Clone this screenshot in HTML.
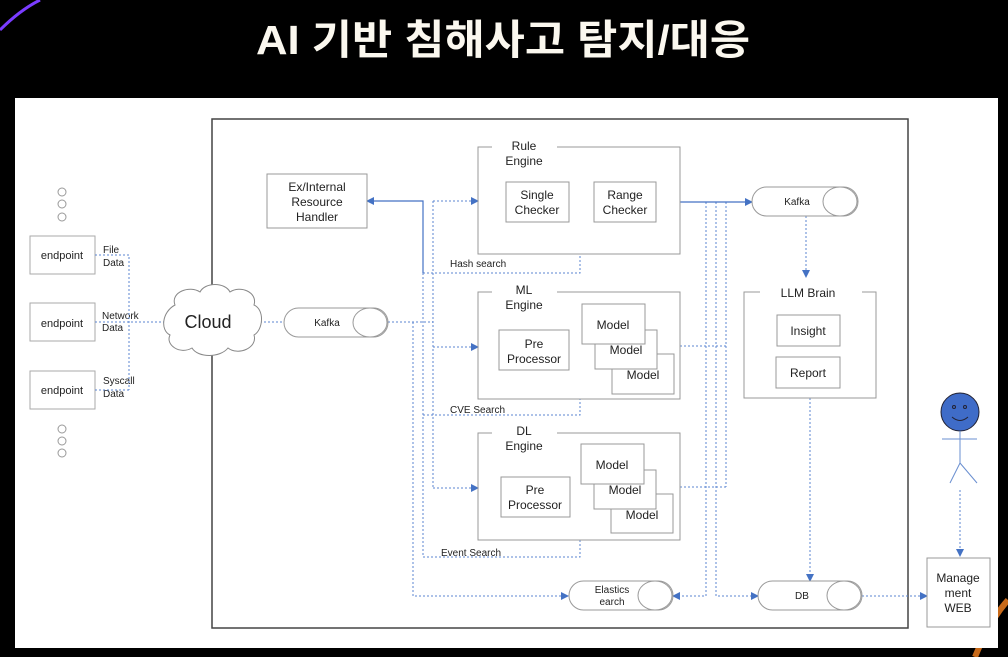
<!DOCTYPE html>
<html><head><meta charset="utf-8">
<style>
html,body{margin:0;padding:0;background:#000;}
svg{display:block;}
text{font-family:"Liberation Sans","Noto Sans CJK KR",sans-serif;fill:#222;}
</style></head>
<body>
<svg width="1008" height="657" viewBox="0 0 1008 657" xmlns="http://www.w3.org/2000/svg">
<defs>
<marker id="a" markerWidth="8" markerHeight="8" refX="7" refY="4" orient="auto" markerUnits="userSpaceOnUse">
<path d="M0,0 L8,4 L0,8 z" fill="#4472c4"/></marker>
</defs>
<rect width="1008" height="657" fill="#000"/>
<path d="M0,30 Q20,10 40,0" stroke="#7a3cff" stroke-width="3" fill="none"/>
<path d="M975,657 Q990,620 1008,600" stroke="#c86a1a" stroke-width="6" fill="none"/>
<text x="503" y="54" text-anchor="middle" font-size="41" font-weight="bold" textLength="494" lengthAdjust="spacingAndGlyphs" style="fill:#fbf8ef">AI 기반 침해사고 탐지/대응</text>
<rect x="15" y="98" width="983" height="550" fill="#fff"/>
<rect x="212" y="119" width="696" height="509" fill="none" stroke="#444" stroke-width="1.5"/>

<g fill="none" stroke="#999">
<circle cx="62" cy="192" r="4"/><circle cx="62" cy="204" r="4"/><circle cx="62" cy="217" r="4"/>
<circle cx="62" cy="429" r="4"/><circle cx="62" cy="441" r="4"/><circle cx="62" cy="453" r="4"/>
</g>
<g fill="#fff" stroke="#aaa">
<rect x="30" y="236" width="65" height="38"/><rect x="30" y="303" width="65" height="38"/><rect x="30" y="371" width="65" height="38"/>
</g>
<g font-size="11" text-anchor="middle">
<text x="62" y="259">endpoint</text><text x="62" y="327">endpoint</text><text x="62" y="394">endpoint</text>
</g>
<g font-size="10">
<text x="103" y="253">File</text><text x="103" y="266">Data</text>
<text x="102" y="319">Network</text><text x="102" y="331">Data</text>
<text x="103" y="384">Syscall</text><text x="103" y="397">Data</text>
</g>
<g fill="none" stroke="#5b86d0" stroke-dasharray="2,2" stroke-width="1">
<path d="M95,255 H129 V390 M95,390 H129 M95,322 H165"/>
<path d="M260,322 H284"/>
<path d="M388,322 H433"/>
<path d="M433,201 V488"/>
<path d="M433,201 H478" marker-end="url(#a)"/>
<path d="M433,347 H478" marker-end="url(#a)"/>
<path d="M433,488 H478" marker-end="url(#a)"/>
<path d="M423,273 V557"/>
<path d="M423,273 H580 V254 M423,415 H580 V399 M423,557 H580 V540"/>
<path d="M413,322 V596 H568" marker-end="url(#a)"/>
<path d="M706,202 V596 H673" marker-end="url(#a)"/>
<path d="M716,202 V596 H758" marker-end="url(#a)"/>
<path d="M726,202 V487 M680,346 H726 M680,487 H726"/>
<path d="M806,216 V277" marker-end="url(#a)"/>
<path d="M810,398 V581" marker-end="url(#a)"/>
<path d="M862,596 H927" marker-end="url(#a)"/>
<path d="M960,490 V556" marker-end="url(#a)"/>
</g>
<g fill="none" stroke="#4472c4" stroke-width="1.2">
<path d="M680,202 H752" marker-end="url(#a)"/>
<path d="M423,273 V201 H367" marker-end="url(#a)"/>
</g>

<path d="M175,305 C170,292 190,285 200,292 C205,282 225,282 230,292 C240,285 258,292 254,305 C265,310 263,330 254,335 C258,348 238,356 228,348 C220,358 198,358 192,348 C180,355 165,345 170,335 C160,330 162,312 175,305 Z" fill="#fff" stroke="#888"/>
<text x="208" y="328" font-size="18" text-anchor="middle">Cloud</text>

<g fill="#fff" stroke="#999">
<rect x="284" y="308" width="104" height="29" rx="14.5"/><ellipse cx="370" cy="322.5" rx="17" ry="14.5"/>
<rect x="752" y="187" width="106" height="29" rx="14.5"/><ellipse cx="840" cy="201.5" rx="17" ry="14.5"/>
<rect x="569" y="581" width="104" height="29" rx="14.5"/><ellipse cx="655" cy="595.5" rx="17" ry="14.5"/>
<rect x="758" y="581" width="104" height="29" rx="14.5"/><ellipse cx="844" cy="595.5" rx="17" ry="14.5"/>
</g>
<g font-size="10" text-anchor="middle">
<text x="327" y="326">Kafka</text><text x="797" y="205">Kafka</text>
<text x="612" y="593">Elastics</text><text x="612" y="605">earch</text>
<text x="802" y="599">DB</text>
</g>

<rect x="267" y="174" width="100" height="54" fill="#fff" stroke="#999"/>
<g font-size="12" text-anchor="middle"><text x="317" y="191">Ex/Internal</text><text x="317" y="206">Resource</text><text x="317" y="221">Handler</text></g>

<g fill="none" stroke="#999">
<path d="M492,147 H478 V254 H680 V147 H557"/>
<path d="M492,292 H478 V399 H680 V292 H557"/>
<path d="M492,433 H478 V540 H680 V433 H557"/>
<path d="M760,292 H744 V398 H876 V292 H862"/>
</g>
<g font-size="12" text-anchor="middle">
<text x="524" y="150">Rule</text><text x="524" y="165">Engine</text>
<text x="524" y="294">ML</text><text x="524" y="309">Engine</text>
<text x="524" y="435">DL</text><text x="524" y="450">Engine</text>
<text x="808" y="297">LLM Brain</text>
</g>
<g fill="#fff" stroke="#999">
<rect x="506" y="182" width="63" height="40"/><rect x="594" y="182" width="62" height="40"/>
<rect x="499" y="330" width="70" height="40"/>
<rect x="612" y="354" width="62" height="40"/><rect x="595" y="330" width="62" height="39"/><rect x="582" y="304" width="63" height="40"/>
<rect x="501" y="477" width="69" height="40"/>
<rect x="611" y="494" width="62" height="39"/><rect x="594" y="470" width="62" height="39"/><rect x="581" y="444" width="63" height="40"/>
<rect x="777" y="315" width="63" height="31"/><rect x="776" y="357" width="64" height="31"/>
<rect x="927" y="558" width="63" height="69"/>
</g>
<g font-size="12" text-anchor="middle">
<text x="537" y="199">Single</text><text x="537" y="214">Checker</text>
<text x="625" y="199">Range</text><text x="625" y="214">Checker</text>
<text x="534" y="348">Pre</text><text x="534" y="363">Processor</text>
<text x="613" y="329">Model</text><text x="626" y="354">Model</text><text x="643" y="379">Model</text>
<text x="535" y="494">Pre</text><text x="535" y="509">Processor</text>
<text x="612" y="469">Model</text><text x="625" y="494">Model</text><text x="642" y="519">Model</text>
<text x="808" y="335">Insight</text><text x="808" y="377">Report</text>
<text x="958" y="582">Manage</text><text x="958" y="597">ment</text><text x="958" y="612">WEB</text>
</g>
<g font-size="10">
<text x="450" y="267">Hash search</text>
<text x="450" y="413">CVE Search</text>
<text x="441" y="556">Event Search</text>
</g>

<circle cx="960" cy="412" r="19" fill="#3f6cc8" stroke="#223"/>
<circle cx="954" cy="407" r="1.5" fill="none" stroke="#223"/><circle cx="965" cy="407" r="1.5" fill="none" stroke="#223"/>
<path d="M952,417 Q960,424 968,417" fill="none" stroke="#223"/>
<g stroke="#6a8fd0" fill="none"><path d="M960,431 V463 M942,439 H977 M960,463 L950,483 M960,463 L977,483"/></g>
</svg>
</body></html>
